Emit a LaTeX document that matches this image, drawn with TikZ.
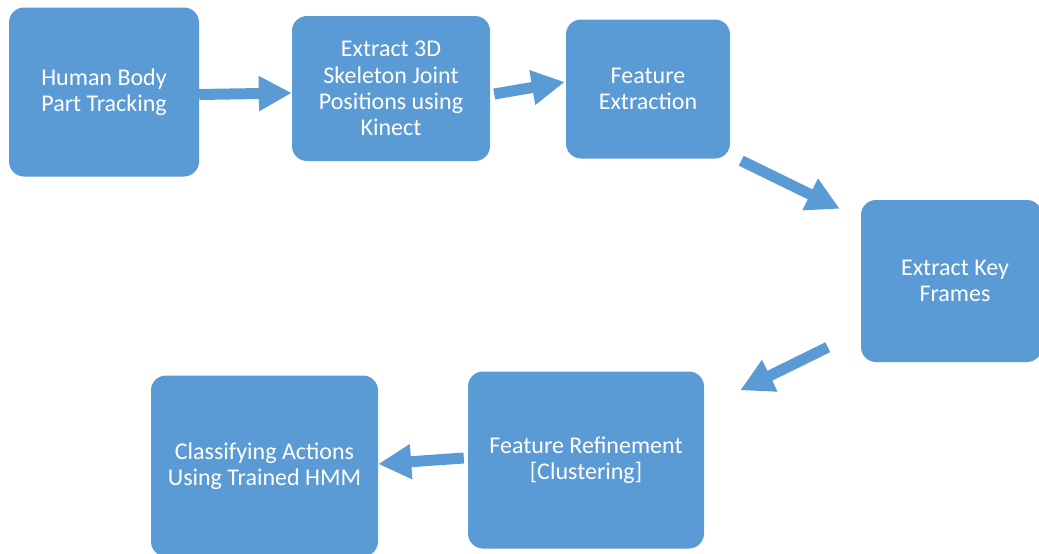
\documentclass[tikz,border=0pt]{standalone}
\usepackage{fontspec}
\setmainfont{Carlito}
\usetikzlibrary{arrows.meta,calc}
\definecolor{boxblue}{HTML}{5B9BD5}
\begin{document}
\begin{tikzpicture}[x=1pt,y=-1pt,
  stepbox/.style={draw=none,fill=boxblue,rounded corners=15pt,inner sep=0pt,
    text=white,align=center,font=\fontsize{24}{26.3}\selectfont},
  flow/.style={draw=boxblue,line width=11pt,
    -{Triangle[length=33pt,width=33pt]}}]
\useasboundingbox (0,0) rectangle (1039,554);
\clip (0,0) rectangle (1039,554);
\fill[white] (0,0) rectangle (1039,554);
\node[stepbox,minimum width=190pt,minimum height=169pt] (n1) at (104,92) {Human Body\\Part Tracking};
\node[stepbox,minimum width=198pt,minimum height=145pt] (n2) at (391,88.5) {Extract 3D\\Skeleton Joint\\Positions using\\Kinect};
\node[stepbox,minimum width=164pt,minimum height=139pt] (n3) at (648,89) {Feature\\Extraction};
\node[stepbox,minimum width=181pt,minimum height=162pt] (n4) at (951.5,281) {\hspace*{7pt}Extract Key\\\hspace*{7pt}Frames};
\node[stepbox,minimum width=236pt,minimum height=177pt] (n5) at (586,460) {Feature Refinement\\{[Clustering]}};
\node[stepbox,minimum width=227pt,minimum height=181pt] (n6) at (264.5,466) {Classifying Actions\\Using Trained HMM};
\draw[flow] ($(n1.east)+(0,2.5)$) -- ($(n2.west)+(0,4.5)$);
\draw[flow] ($(n2.east)+(4,5.5)$) -- ($(n3.west)+(-1,-7)$);
\draw[flow] ($(n3.south east)+(11,2)$) -- ($(n4.north west)+(-21,9)$);
\draw[flow] ($(n4.south west)+(-33,-15)$) -- ($(n5.north east)+(36,19)$);
\draw[flow] ($(n5.west)+(-4,-2)$) -- ($(n6.east)+(0,-2)$);
\end{tikzpicture}
\end{document}
